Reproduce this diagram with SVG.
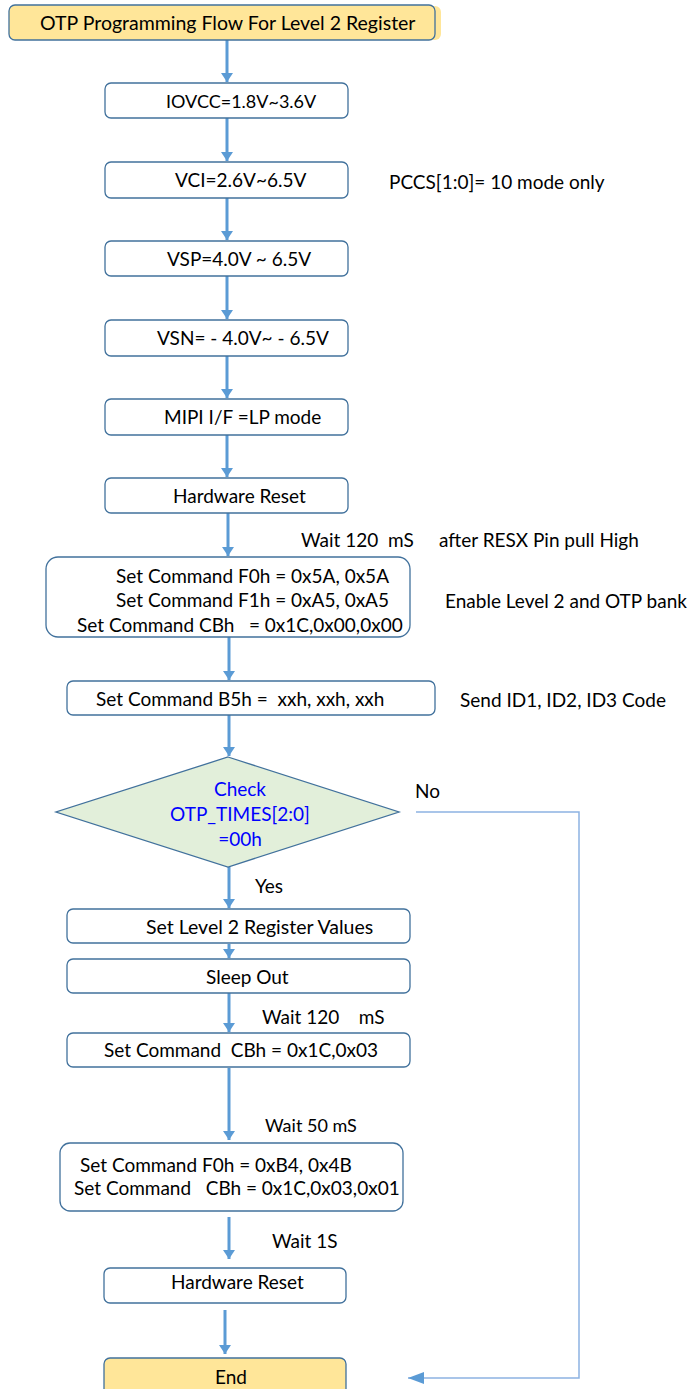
<svg xmlns="http://www.w3.org/2000/svg" width="695" height="1389" viewBox="0 0 695 1389">
<defs>
<style>
.box{fill:#fff;stroke:#41719C;stroke-width:1.3}
.yel{fill:#FFE699;stroke:#41719C;stroke-width:1.3}
.dia{fill:#E2EFDA;stroke:#41719C;stroke-width:1.3}
.t{font-family:Lato,"Liberation Sans",sans-serif;font-size:19px;fill:#000;white-space:pre}
.b{fill:#0000FF}
.arr{stroke:#5B9BD5;stroke-width:3;fill:none;marker-end:url(#ah)}
.loop{stroke:#8DB3E2;stroke-width:1.5;fill:none;marker-end:url(#ah2)}
</style>
<marker id="ah" markerUnits="userSpaceOnUse" markerWidth="10" markerHeight="12" refX="9" refY="6" orient="auto">
<path d="M0,0 L9,6 L0,12 z" fill="#5B9BD5"/>
</marker>
<marker id="ah2" markerUnits="userSpaceOnUse" markerWidth="16" markerHeight="12" refX="16" refY="6" orient="auto">
<path d="M0,0 L16,6 L0,12 z" fill="#5B9BD5"/>
</marker>
</defs>
<g id="connectors">
<line class="arr" x1="227" y1="40" x2="227" y2="82"/>
<line class="arr" x1="227" y1="118" x2="227" y2="161"/>
<line class="arr" x1="227" y1="198" x2="227" y2="240"/>
<line class="arr" x1="227" y1="276" x2="227" y2="319"/>
<line class="arr" x1="227" y1="356" x2="227" y2="398"/>
<line class="arr" x1="227" y1="435" x2="227" y2="477"/>
<line class="arr" x1="228" y1="513" x2="228" y2="556"/>
<line class="arr" x1="229" y1="637" x2="229" y2="680"/>
<line class="arr" x1="229" y1="715" x2="229" y2="756"/>
<line class="arr" x1="229" y1="867" x2="229" y2="908"/>
<line class="arr" x1="229" y1="944" x2="229" y2="958"/>
<line class="arr" x1="229" y1="993" x2="229" y2="1032"/>
<line class="arr" x1="229" y1="1068" x2="229" y2="1140"/>
<line class="arr" x1="229" y1="1217" x2="229" y2="1259"/>
<line class="arr" x1="225" y1="1310" x2="225" y2="1354"/>
<polyline class="loop" points="416,812 579,812 579,1378 408,1378"/>
</g>
<g id="title"><rect x="12" y="6" width="429" height="34" rx="6" fill="#FFE699"/><rect class="yel" x="9" y="5" width="426" height="35" rx="6"/><text class="t" x="40" y="30" style="font-size:19.5px">OTP Programming Flow For Level 2 Register</text></g>
<g id="iovcc"><rect class="box" x="105" y="83" width="243" height="35" rx="6"/><text class="t" x="166" y="108" style="font-size:18px">IOVCC=1.8V~3.6V</text></g>
<g id="vci"><rect class="box" x="105" y="162" width="243" height="36" rx="6"/><text class="t" x="175" y="187">VCI=2.6V~6.5V</text></g>
<text class="t" x="389" y="189">PCCS[1:0]= 10 mode only</text>
<g id="vsp"><rect class="box" x="105" y="241" width="243" height="35" rx="6"/><text class="t" x="167" y="266">VSP=4.0V ~ 6.5V</text></g>
<g id="vsn"><rect class="box" x="105" y="320" width="243" height="36" rx="6"/><text class="t" x="157" y="345">VSN= - 4.0V~ - 6.5V</text></g>
<g id="mipi"><rect class="box" x="105" y="399" width="243" height="36" rx="6"/><text class="t" x="164" y="424">MIPI I/F =LP mode</text></g>
<g id="hwreset1"><rect class="box" x="105" y="478" width="243" height="35" rx="6"/><text class="t" x="173" y="503">Hardware Reset</text></g>
<text class="t" x="301" y="547">Wait 120  mS</text>
<text class="t" x="439" y="547">after RESX Pin pull High</text>
<g id="cmd1"><rect class="box" x="46" y="557" width="364" height="80" rx="12"/>
<text class="t" x="116" y="583">Set Command F0h = 0x5A, 0x5A</text>
<text class="t" x="116" y="607">Set Command F1h = 0xA5, 0xA5</text>
<text class="t" x="77" y="632">Set Command CBh   = 0x1C,0x00,0x00</text></g>
<text class="t" x="445" y="608">Enable Level 2 and OTP bank</text>
<g id="b5h"><rect class="box" x="67" y="681" width="368" height="34" rx="6"/><text class="t" x="96" y="706">Set Command B5h =  xxh, xxh, xxh</text></g>
<text class="t" x="460" y="707">Send ID1, ID2, ID3 Code</text>
<g id="check"><polygon class="dia" points="228,757 399,812 228,867 56,812"/>
<text class="t b" x="240" y="796" text-anchor="middle">Check</text>
<text class="t b" x="240" y="821" text-anchor="middle">OTP_TIMES[2:0]</text>
<text class="t b" x="240" y="846" text-anchor="middle">=00h</text></g>
<text class="t" x="415" y="798">No</text>
<text class="t" x="255" y="893">Yes</text>
<g id="setl2"><rect class="box" x="67" y="909" width="343" height="34" rx="6"/><text class="t" x="146" y="934" style="font-size:19.5px">Set Level 2 Register Values</text></g>
<g id="sleepout"><rect class="box" x="67" y="959" width="343" height="34" rx="6"/><text class="t" x="206" y="984">Sleep Out</text></g>
<text class="t" x="262" y="1024">Wait 120    mS</text>
<g id="cbh"><rect class="box" x="67" y="1033" width="343" height="34" rx="6"/><text class="t" x="104" y="1057">Set Command  CBh = 0x1C,0x03</text></g>
<text class="t" x="265" y="1132" style="font-size:18px">Wait 50 mS</text>
<g id="cmd2"><rect class="box" x="60" y="1143" width="343" height="68" rx="10"/>
<text class="t" x="80" y="1172">Set Command F0h = 0xB4, 0x4B</text>
<text class="t" x="74" y="1195">Set Command   CBh = 0x1C,0x03,0x01</text></g>
<text class="t" x="272" y="1248">Wait 1S</text>
<g id="hwreset2"><rect class="box" x="104" y="1268" width="242" height="35" rx="6"/><text class="t" x="171" y="1289">Hardware Reset</text></g>
<g id="end"><rect class="yel" x="104" y="1358" width="242" height="40" rx="6"/><text class="t" x="215" y="1384">End</text></g>
</svg>
